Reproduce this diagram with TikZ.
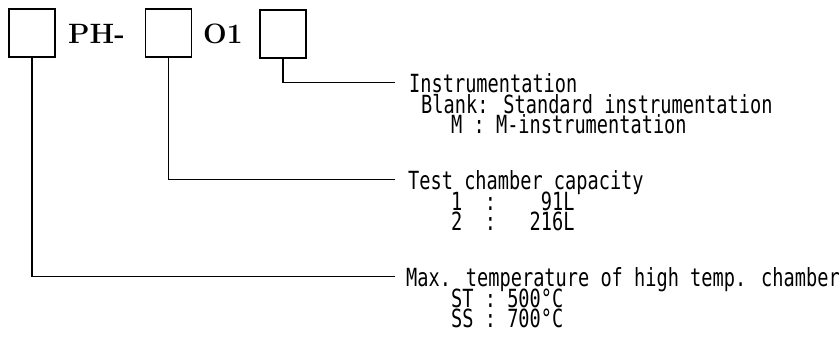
\documentclass[tikz,border=0pt]{standalone}
\usepackage{fontspec}
\newfontfamily\codefont[FakeStretch=0.745]{DejaVu Sans Mono}

\tikzset{
  codebox/.style={draw, line width=1.5pt, minimum width=46pt, minimum height=48pt, inner sep=0pt},
  typetext/.style={font=\fontsize{28}{28}\selectfont\bfseries, inner sep=0pt, anchor=base west},
  desc/.style={font=\codefont\fontsize{25}{25}\selectfont, inner sep=0pt, anchor=base west,
    text height=15pt, text depth=4pt},
  headtext/.style={desc, text height=19pt, text depth=0pt},
  lead/.style={line width=1.2pt}
}

\begin{document}
\begin{tikzpicture}[x=1pt,y=-1pt]
\useasboundingbox (0,0) rectangle (839,341);
% model code
\node[codebox] (b1) at (32,33) {};
\node[typetext] (ph) at (68,43) {PH-};
\node[codebox] (b2) at (168.5,33) {};
\node[typetext] (o1) at (203,43) {O1};
\node[codebox] (b3) at (283,34) {};
% instrumentation
\node[headtext] (instr) at (409,92) {Instrumentation};
\node[desc] (blank) at (421,113) {Blank: Standard instrumentation};
\node[desc] (minst) at (451,133) {M : M-instrumentation};
% capacity
\node[headtext] (cap) at (408,189) {Test chamber capacity};
\node[desc] (cap1) at (451,210) {1\ \ :\ \ \ \ 91L};
\node[desc] (cap2) at (451,230) {2\ \ :\ \ \ 216L};
% max temperature
\node[headtext] (maxt) at (406,286) {Max. temperature of high temp. chamber};
\node[desc] (st) at (451,307) {ST : 500°C};
\node[desc] (ss) at (451,327) {SS : 700°C};
% leaders
\draw[lead] (b3.south) |- ([xshift=-14pt]instr.west);
\draw[lead] (b2.south) |- ([xshift=-13pt]cap.west);
\draw[lead] (b1.south) |- ([xshift=-11pt]maxt.west);
\end{tikzpicture}
\end{document}
